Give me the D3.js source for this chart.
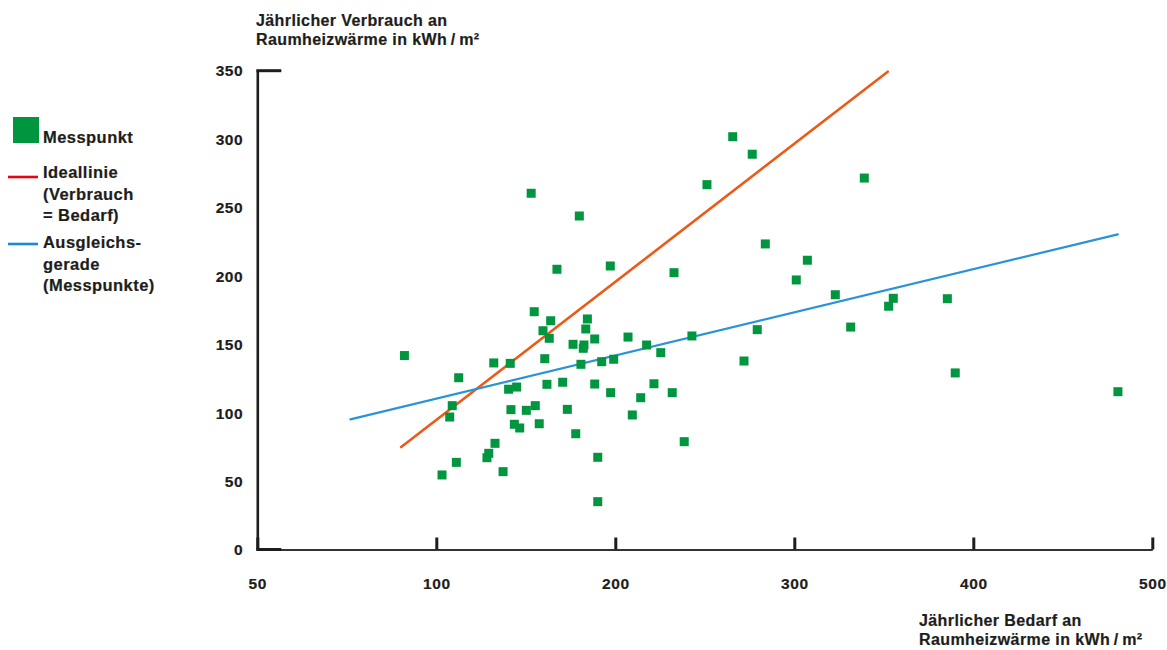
<!DOCTYPE html>
<html>
<head>
<meta charset="utf-8">
<script src="https://cdn.jsdelivr.net/npm/d3@7/dist/d3.min.js"></script>
<style>
  html, body { margin: 0; padding: 0; background: #fff; }
  svg { display: block; }
  text { font-family: "Liberation Sans", Arial, Helvetica, sans-serif; font-weight: bold; fill: #1d1d1b; }
</style>
</head>
<body>
<svg id="chart" width="1167" height="650"></svg>
<script>
// ---- Data ----
// Jährlicher Bedarf an Raumheizwärme (x, kWh/m²)
const bedarf = [91.1, 103.2, 107.5, 108.9, 111.2, 112.5, 129.3, 128.3, 132.1, 132.8,
  137.3, 140.4, 141.3, 141.7, 143.6, 144.9, 146.6, 150.3, 153.0, 154.7,
  155.3, 157.5, 159.6, 160.6, 161.8, 163.1, 163.9, 167.4, 170.6, 173.2,
  176.4, 177.9, 179.9, 180.8, 182.5, 182.1, 183.5, 184.4, 188.5, 188.5,
  190.2, 190.2, 192.4, 197.2, 197.4, 199.1, 207.1, 209.5, 214.2, 217.5,
  221.6, 225.4, 231.8, 232.8, 238.5, 242.8, 251.2, 265.6, 271.9, 276.5,
  279.3, 283.8, 301.1, 307.3, 322.9, 331.5, 339.1, 352.7, 355.3, 385.5,
  389.9, 480.8];
// Jährlicher Verbrauch an Raumheizwärme (y, kWh/m²)
const verbrauch = [142.0, 54.8, 97.1, 105.4, 64.0, 125.8, 70.6, 67.4, 136.6, 77.9,
  57.2, 117.4, 136.3, 102.5, 91.8, 119.0, 89.1, 102.0, 260.5, 174.0,
  105.4, 92.2, 160.1, 139.7, 121.0, 154.6, 167.4, 205.0, 122.5, 102.7,
  150.2, 84.9, 243.9, 135.6, 149.7, 147.3, 161.4, 168.7, 121.2, 154.1,
  67.7, 35.3, 137.5, 207.4, 114.9, 139.3, 155.5, 98.6, 111.2, 149.7,
  121.4, 144.1, 114.9, 202.5, 79.1, 156.3, 266.8, 301.8, 138.0, 289.0,
  160.9, 223.5, 197.2, 211.6, 186.4, 162.8, 271.6, 178.0, 183.8, 183.5,
  129.3, 115.6];
// Ideallinie (Verbrauch = Bedarf), endpoints [bedarf, verbrauch]
const idealBedarf = [90.2, 352.2];
const idealVerbrauch = [75.2, 349.3];
// Ausgleichsgerade (Messpunkte), endpoints
const fitBedarf = [76.0, 480.7];
const fitVerbrauch = [95.4, 230.5];
// Ticks
const xTicks = [50, 100, 200, 300, 400, 500];
const yTicks = [0, 50, 100, 150, 200, 250, 300, 350];
const yTitle = ["Jährlicher Verbrauch an", "Raumheizwärme in kWh\u2009/\u2009m²"];
const xTitle = ["Jährlicher Bedarf an", "Raumheizwärme in kWh\u2009/\u2009m²"];
const legendItems = [
  { key: "punkt", lines: ["Messpunkt"] },
  { key: "ideal", lines: ["Ideallinie", "(Verbrauch", "= Bedarf)"] },
  { key: "fit", lines: ["Ausgleichs-", "gerade", "(Messpunkte)"] }
];

// ---- Colours ----
const cGreen = "#00963f", cOrange = "#ec5a17", cBlue = "#2a93d8";
const cLegRed = "#e30613", cLegBlue = "#1a8ad4", cAxis = "#1d1d1b";

const svg = d3.select("#chart");
const x0 = 257.3, x1 = 1152.3, yBottom = 550, yTop = 70.7;

// broken x-axis: 50 at origin, then linear from 100 to 500
const x = d3.scaleLinear().domain([50, 100, 500]).range([x0, x0 + (x1 - x0) / 5, x1]);
const y = d3.scaleLinear().domain([0, 350]).range([yBottom, yTop]);

// ---- X axis ----
const gx = svg.append("g").attr("transform", `translate(0,${yBottom - 0.5})`)
  .call(d3.axisBottom(x).tickValues(xTicks).tickSizeInner(-12).tickSizeOuter(0).tickPadding(28)
    .tickFormat(d3.format("d")));
gx.select(".domain").attr("stroke", "#333").attr("stroke-width", 2);
gx.selectAll(".tick line").attr("stroke", cAxis).attr("stroke-width", 3);
gx.selectAll(".tick text").attr("fill", cAxis).style("font-size", "15.5px").style("letter-spacing", "0.6px")
  .style("font-family", "'Liberation Sans', Arial, sans-serif").style("font-weight", "bold")
  .attr("stroke", cAxis).attr("stroke-width", 0.2);

// ---- Y axis ----
const gy = svg.append("g").attr("transform", `translate(${x0},0)`)
  .call(d3.axisLeft(y).tickValues(yTicks).tickSize(0).tickPadding(14).tickFormat(d3.format("d")));
gy.select(".domain").attr("stroke", cAxis).attr("stroke-width", 2.6);
gy.selectAll(".tick text").attr("fill", cAxis).style("font-size", "15.5px").style("letter-spacing", "0.6px")
  .style("font-family", "'Liberation Sans', Arial, sans-serif").style("font-weight", "bold")
  .attr("stroke", cAxis).attr("stroke-width", 0.2);
// inward horizontal ticks only at 0 and 350
svg.append("g").selectAll("line").data([0, 350]).join("line")
  .attr("x1", x0 - 1).attr("x2", x0 + 24)
  .attr("y1", d => y(d) - (d === 0 ? 0.5 : 0)).attr("y2", d => y(d) - (d === 0 ? 0.5 : 0))
  .attr("stroke", cAxis).attr("stroke-width", 3);

// ---- Axis titles ----
svg.append("text").attr("x", 256).attr("y", 26)
  .style("font-size", "16px").style("letter-spacing", "0.4px")
  .attr("stroke", cAxis).attr("stroke-width", 0.2)
  .selectAll("tspan").data(yTitle).join("tspan")
  .attr("x", 256).attr("dy", (d, i) => i === 0 ? 0 : 19).text(d => d);
svg.append("text").attr("x", 919).attr("y", 626)
  .style("font-size", "16px").style("letter-spacing", "0.4px")
  .attr("stroke", cAxis).attr("stroke-width", 0.2)
  .selectAll("tspan").data(xTitle).join("tspan")
  .attr("x", 919).attr("dy", (d, i) => i === 0 ? 0 : 19).text(d => d);

// ---- Lines ----
const line = d3.line().x(d => x(d[0])).y(d => y(d[1]));
svg.append("path").datum(idealBedarf.map((b, i) => [b, idealVerbrauch[i]]))
  .attr("d", line).attr("fill", "none").attr("stroke", cOrange).attr("stroke-width", 2.6)
  .attr("stroke-linecap", "round");
svg.append("path").datum(fitBedarf.map((b, i) => [b, fitVerbrauch[i]]))
  .attr("d", line).attr("fill", "none").attr("stroke", cBlue).attr("stroke-width", 2.2)
  .attr("stroke-linecap", "round");

// ---- Points ----
const sq = 9;
svg.append("g").selectAll("rect").data(bedarf.map((b, i) => [b, verbrauch[i]])).join("rect")
  .attr("x", d => x(d[0]) - sq / 2).attr("y", d => y(d[1]) - sq / 2)
  .attr("width", sq).attr("height", sq).attr("fill", cGreen);

// ---- Legend ----
const leg = svg.append("g");
leg.append("rect").attr("x", 13).attr("y", 117).attr("width", 26).attr("height", 26).attr("fill", cGreen);
leg.append("line").attr("x1", 8).attr("x2", 38).attr("y1", 177).attr("y2", 177)
  .attr("stroke", cLegRed).attr("stroke-width", 2.6);
leg.append("line").attr("x1", 8).attr("x2", 38).attr("y1", 244).attr("y2", 244)
  .attr("stroke", cLegBlue).attr("stroke-width", 2.6);
const legBase = { punkt: 143, ideal: 178, fit: 248 };
legendItems.forEach(item => {
  leg.append("text").attr("x", 43).attr("y", legBase[item.key])
    .style("font-size", "16.5px").style("letter-spacing", "0.45px")
    .attr("stroke", cAxis).attr("stroke-width", 0.2)
    .selectAll("tspan").data(item.lines).join("tspan")
    .attr("x", 43).attr("dy", (d, i) => i === 0 ? 0 : 21.5).text(d => d);
});
</script>
</body>
</html>
